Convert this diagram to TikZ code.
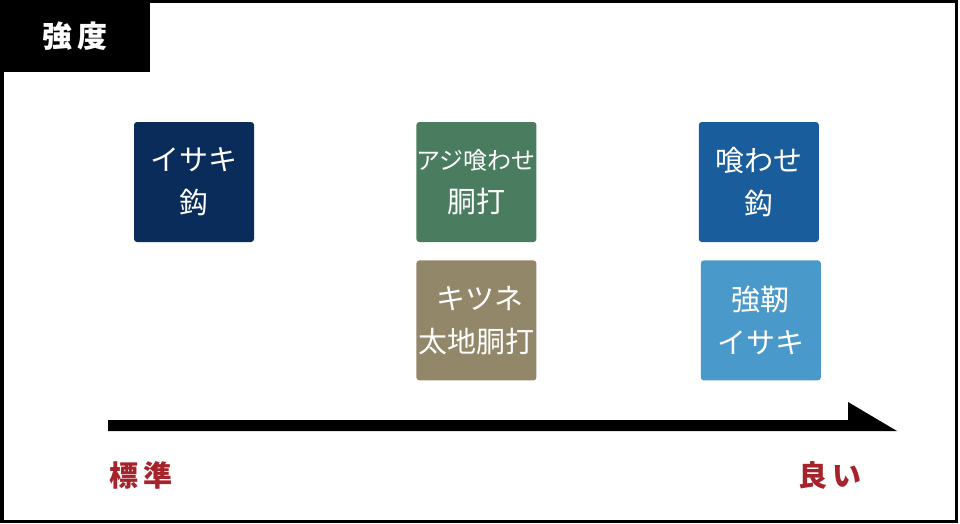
\documentclass[tikz,border=0pt]{standalone}
\usepackage{fontspec}
\setmainfont{Noto Sans CJK JP}
\usepackage{xcolor}
\usepackage{tikz}
\usetikzlibrary{positioning}
\definecolor{hooknavy}{HTML}{0A2C5B}
\definecolor{hookgreen}{HTML}{4A7D5F}
\definecolor{hookkhaki}{HTML}{938769}
\definecolor{hookblue}{HTML}{1A5D9C}
\definecolor{hooksky}{HTML}{4A99CB}
\definecolor{scalered}{HTML}{A6232C}

\begin{document}
\begin{tikzpicture}[
  x=1pt, y=-1pt,
  hook/.style={
    rectangle, rounded corners=3pt, fill=#1,
    minimum width=120pt, minimum height=120pt, inner sep=0pt,
    text=white, font=\fontsize{29}{43}\selectfont, align=center
  },
  axislabel/.style={font=\fontsize{29}{29}\selectfont\bfseries, text=scalered},
]
\useasboundingbox (0,0) rectangle (960,524);

% Frame
\draw[line width=3.5pt] (1.75,1.75) rectangle (956.25,521.25);
\node[fill=black, minimum width=150pt, minimum height=72pt, inner sep=0pt,
      anchor=north west, text=white, font=\fontsize{30}{30}\selectfont\bfseries]
  (title) at (0,0) {強\,度};

% Hooks
\node[hook=hooknavy] (isaki) at (194,182) {イサキ\\鈎};
\node[hook=hookgreen, right=162pt of isaki] (aji)
  {{\fontsize{24}{43}\selectfont アジ喰わせ}\\胴打};
\node[hook=hookkhaki, below=18pt of aji] (kitsune) {\hspace{8pt}キツネ\\太地胴打};
\node[hook=hookblue, right=162pt of aji] (kuwase) {喰わせ\\鈎};
\node[hook=hooksky, below=18pt of kuwase, xshift=2pt] (kyojin) {強靭\\イサキ};

% Scale
\coordinate (lo) at (108,431);
\coordinate (hi) at (897,431);
\fill (lo) -- ++(0,-11) -- (848,420) -- (848,402) -- (hi) -- cycle;

% Labels
\node[axislabel] (std) at (141,475) {標\,準};
\node[axislabel] (good) at (830,475) {良\,い};

\end{tikzpicture}
\end{document}
